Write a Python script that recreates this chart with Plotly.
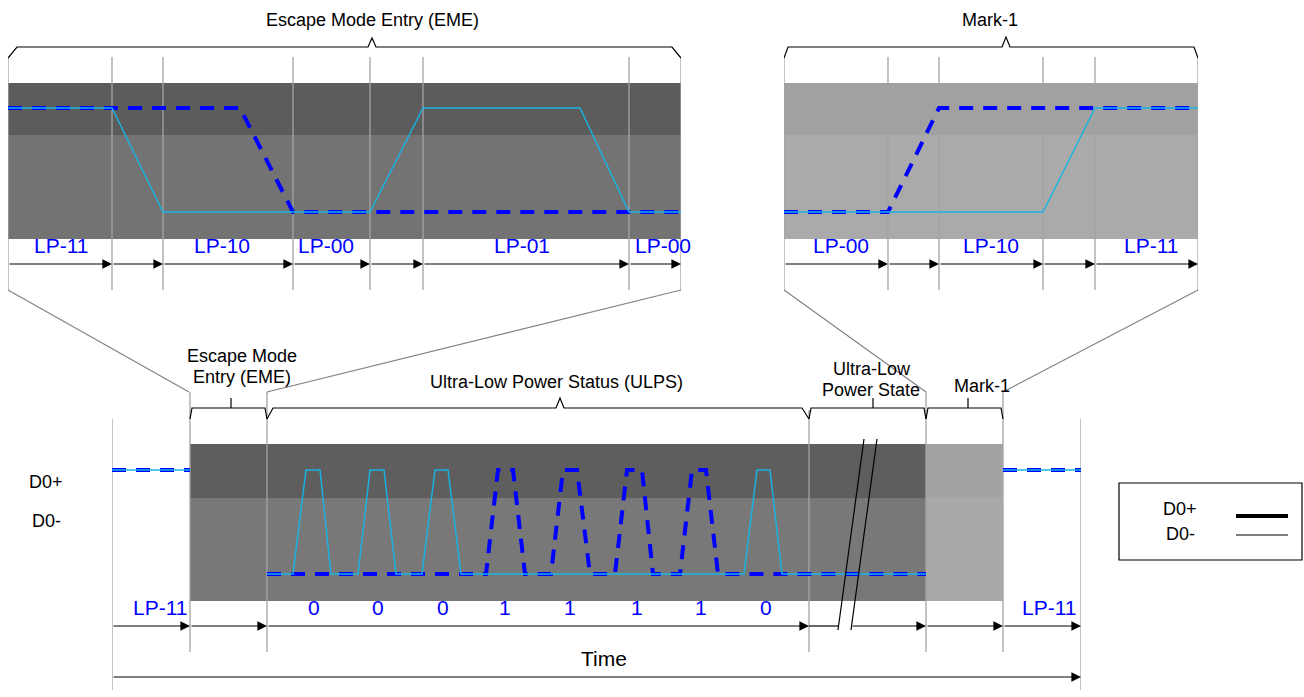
import plotly.graph_objects as go

W, H = 1304, 697

# ---------------- data ----------------
# Top-left zoom: Escape Mode Entry (time offsets, levels 1 = high, 0 = low)
EME_BOUNDS = [0, 104, 155, 285, 362, 415, 621, 673]
EME_LABELS = ["LP-11", "LP-10", "LP-00", "LP-01", "LP-00"]
EME_LABEL_T = [53, 214, 318, 514, 655]
EME_DP_T = [0, 232, 285, 673]
EME_DP_V = [1, 1, 0, 0]
EME_DN_T = [0, 104, 155, 362, 415, 572, 621, 673]
EME_DN_V = [1, 1, 0, 0, 1, 1, 0, 0]

# Top-right zoom: Mark-1
MK_BOUNDS = [0, 104, 155, 259, 311, 414]
MK_LABELS = ["LP-00", "LP-10", "LP-11"]
MK_LABEL_T = [57, 207, 367]
MK_DP_T = [0, 104, 155, 414]
MK_DP_V = [0, 0, 1, 1]
MK_DN_T = [0, 259, 311, 414]
MK_DN_V = [0, 0, 1, 1]

# Bottom overview sequence
SEQ_BOUNDS = [0, 78, 155, 697, 814, 891, 969]
SEQ_DP_T = [0, 78, None, 155, 374, 386, 401, 413, 439, 451, 465, 478,
            503, 515, 530, 541, 568, 580, 594, 606, 814, None, 891, 969]
SEQ_DP_V = [1, 1, None, 0, 0, 1, 1, 0, 0, 1, 1, 0,
            0, 1, 1, 0, 0, 1, 1, 0, 0, None, 1, 1]
SEQ_DN_T = [0, 78, None, 155, 181, 194, 208, 219, 246, 258, 272, 284,
            310, 323, 336, 349, 632, 645, 658, 670, 814, None, 891, 969]
SEQ_DN_V = [1, 1, None, 0, 0, 1, 1, 0, 0, 1, 1, 0,
            0, 1, 1, 0, 0, 1, 1, 0, 0, None, 1, 1]
BITS = ["0", "0", "0", "1", "1", "1", "1", "0"]
BIT_T = [202, 266, 331, 393, 458, 525, 589, 654]
SEQ_LP_LABELS = ["LP-11", "LP-11"]
SEQ_LP_T = [48, 937]

# ---------------- helpers ----------------
def py(p):
    return 1 - p / H

def px(p):
    return p / W

FONT = "Liberation Sans, Arial, sans-serif"
BLUE = "#0000ff"
CYAN = "#17b4e6"
SEP = "#a4a4a4"

fig = go.Figure()
shapes = []
ann = []

def add_signal(xa, ya, dp_t, dp_v, dn_t, dn_v):
    fig.add_trace(go.Scatter(x=dp_t, y=dp_v, xaxis=xa, yaxis=ya, mode="lines",
                             line=dict(color=BLUE, width=4, dash="14px,10px"),
                             connectgaps=False, hoverinfo="skip", showlegend=False))
    fig.add_trace(go.Scatter(x=dn_t, y=dn_v, xaxis=xa, yaxis=ya, mode="lines",
                             line=dict(color=CYAN, width=1.4),
                             connectgaps=False, hoverinfo="skip", showlegend=False))

add_signal("x", "y", EME_DP_T, EME_DP_V, EME_DN_T, EME_DN_V)
add_signal("x2", "y2", MK_DP_T, MK_DP_V, MK_DN_T, MK_DN_V)
add_signal("x3", "y3", SEQ_DP_T, SEQ_DP_V, SEQ_DN_T, SEQ_DN_V)

def rect(xref, t0, t1, ytop, ybot, color):
    shapes.append(dict(type="rect", xref=xref, yref="paper", x0=t0, x1=t1,
                       y0=py(ybot), y1=py(ytop), fillcolor=color,
                       line=dict(width=0), layer="below"))

def vline(xref, t, ytop, ybot, color=SEP, width=1.3, layer="below"):
    shapes.append(dict(type="line", xref=xref, yref="paper", x0=t, x1=t,
                       y0=py(ybot), y1=py(ytop), line=dict(color=color, width=width),
                       layer=layer))

def arrow(xref, t0, t1, ypx, head=True):
    ann.append(dict(x=t1, y=py(ypx), xref=xref, yref="paper", ax=t0, ay=0,
                    axref=xref, ayref="pixel", showarrow=True,
                    arrowhead=2 if head else 0, arrowsize=1.6, arrowwidth=1.2,
                    arrowcolor="black", text="", standoff=0))

def text(xref, t, ypx, s, size, color="black"):
    ann.append(dict(x=t, y=py(ypx), xref=xref, yref="paper", text=s, showarrow=False,
                    font=dict(family=FONT, size=size, color=color),
                    xanchor="center", yanchor="middle"))

def ptext(xpx, ypx, s, size, color="black"):
    ann.append(dict(x=px(xpx), y=py(ypx), xref="paper", yref="paper", text=s,
                    showarrow=False, font=dict(family=FONT, size=size, color=color),
                    xanchor="center", yanchor="middle"))

def pline(x0, y0, x1, y1, color="#808080", width=1.1):
    shapes.append(dict(type="line", xref="paper", yref="paper", x0=px(x0), y0=py(y0),
                       x1=px(x1), y1=py(y1), line=dict(color=color, width=width),
                       layer="above"))

def brace_path(pts):
    d = ""
    for i, (t, y) in enumerate(pts):
        d += ("M" if i == 0 else "L") + f"{t},{py(y)}"
    return d

def brace(xref, pts):
    shapes.append(dict(type="path", xref=xref, yref="paper", path=brace_path(pts),
                       line=dict(color="black", width=1.2), layer="above"))

LP_SIZE = 21
LBL_SIZE = 18

# ---------------- top-left panel ----------------
rect("x", EME_BOUNDS[0], EME_BOUNDS[-1], 83, 135, "#5c5c5c")
rect("x", EME_BOUNDS[0], EME_BOUNDS[-1], 135, 239, "#737373")
for t in EME_BOUNDS:
    vline("x", t, 57, 290)
for a, b in zip(EME_BOUNDS[:-1], EME_BOUNDS[1:]):
    arrow("x", a, b, 264)
for s, t in zip(EME_LABELS, EME_LABEL_T):
    text("x", t, 245, s, LP_SIZE, BLUE)
brace("x", [(0, 58), (9, 47), (360, 47), (364, 38), (368, 47), (664, 47), (673, 58)])
text("x", 364, 20, "Escape Mode Entry (EME)", LBL_SIZE)

# ---------------- top-right panel ----------------
rect("x2", MK_BOUNDS[0], MK_BOUNDS[-1], 83, 135, "#a1a1a1")
rect("x2", MK_BOUNDS[0], MK_BOUNDS[-1], 135, 239, "#aaaaaa")
for t in MK_BOUNDS:
    vline("x2", t, 57, 290)
for a, b in zip(MK_BOUNDS[:-1], MK_BOUNDS[1:]):
    arrow("x2", a, b, 264)
for s, t in zip(MK_LABELS, MK_LABEL_T):
    text("x2", t, 245, s, LP_SIZE, BLUE)
brace("x2", [(0, 58), (4, 47), (218, 47), (222, 37), (226, 47), (410, 47), (414, 58)])
text("x2", 206, 20, "Mark-1", LBL_SIZE)

# ---------------- bottom panel ----------------
b = SEQ_BOUNDS
rect("x3", b[1], b[4], 444, 498, "#5e5e5e")
rect("x3", b[1], b[4], 498, 601, "#787878")
rect("x3", b[4], b[5], 444, 498, "#a3a3a3")
rect("x3", b[4], b[5], 498, 601, "#a9a9a9")
vline("x3", b[0], 419, 690)
vline("x3", b[1], 392, 652)
vline("x3", b[2], 392, 652)
vline("x3", b[3], 410, 652)
vline("x3", b[4], 392, 652)
vline("x3", b[5], 392, 652)
vline("x3", b[6], 419, 690)

arrow("x3", b[0], b[1], 626)
arrow("x3", b[1], b[2], 626)
arrow("x3", b[2], b[3], 626)
shapes.append(dict(type="line", xref="x3", yref="paper", x0=b[3], x1=726,
                   y0=py(626), y1=py(626), line=dict(color="black", width=1.2)))
arrow("x3", 739, b[4], 626)
arrow("x3", b[4], b[5], 626)
arrow("x3", b[5], b[6], 626)
arrow("x3", b[0], b[6], 677)
text("x3", 492, 658, "Time", LP_SIZE)

for s, t in zip(BITS, BIT_T):
    text("x3", t, 607, s, LP_SIZE, BLUE)
for s, t in zip(SEQ_LP_LABELS, SEQ_LP_T):
    text("x3", t, 607, s, LP_SIZE, BLUE)

# braces of the bottom sequence
brace("x3", [(b[1], 419), (b[1] + 2, 408), (b[2] - 2, 408), (b[2], 419)])
brace("x3", [(119, 408), (119, 398)])
brace("x3", [(b[2], 419), (b[2] + 6, 408), (444, 408), (448, 398), (452, 408),
             (b[3] - 7, 408), (b[3], 419)])
brace("x3", [(b[3], 419), (b[3] + 2, 408), (b[4] - 2, 408), (b[4], 419)])
brace("x3", [(761, 408), (761, 398)])
brace("x3", [(b[4], 419), (b[4] + 2, 408), (b[5] - 2, 408), (b[5], 419)])
brace("x3", [(856, 408), (856, 398)])

text("x3", 130, 356, "Escape Mode", LBL_SIZE)
text("x3", 130, 377, "Entry (EME)", LBL_SIZE)
text("x3", 444, 382, "Ultra-Low Power Status (ULPS)", LBL_SIZE)
text("x3", 760, 369, "Ultra-Low", LBL_SIZE)
text("x3", 759, 390, "Power State", LBL_SIZE)
text("x3", 870, 386, "Mark-1", LBL_SIZE)

# break marks
pline(864, 439, 838, 630, color="black", width=1.2)
pline(877, 439, 851, 630, color="black", width=1.2)

# zoom connectors
pline(8, 290, 189, 392)
pline(681, 290, 267, 392)
pline(784, 290, 926, 392)
pline(1198, 290, 1003, 392)

# side labels
ptext(46, 482, "D0+", LBL_SIZE)
ptext(46, 521, "D0-", LBL_SIZE)

# legend box
shapes.append(dict(type="rect", xref="paper", yref="paper", x0=px(1119), x1=px(1302),
                   y0=py(560), y1=py(483), line=dict(color="black", width=1.2),
                   fillcolor="white", layer="above"))
pline(1236, 516, 1288, 516, color="black", width=4)
pline(1236, 535, 1288, 535, color="black", width=1)
ptext(1180, 509, "D0+", LBL_SIZE)
ptext(1180, 534, "D0-", LBL_SIZE)

ax_common = dict(visible=False, fixedrange=True, showgrid=False, zeroline=False)
top_dom = [py(239), py(83)]
top_rng = [-(239 - 212) / 104, 1 + (108 - 83) / 104]
bot_dom = [py(601), py(444)]
bot_rng = [-(601 - 574) / 104, 1 + (470 - 444) / 104]

fig.update_layout(
    width=W, height=H, margin=dict(l=0, r=0, t=0, b=0),
    paper_bgcolor="white", plot_bgcolor="rgba(0,0,0,0)",
    showlegend=False,
    xaxis=dict(domain=[px(8), px(681)], range=[0, 673], anchor="y", **ax_common),
    yaxis=dict(domain=top_dom, range=top_rng, anchor="x", **ax_common),
    xaxis2=dict(domain=[px(784), px(1198)], range=[0, 414], anchor="y2", **ax_common),
    yaxis2=dict(domain=top_dom, range=top_rng, anchor="x2", **ax_common),
    xaxis3=dict(domain=[px(112), px(1081)], range=[0, 969], anchor="y3", **ax_common),
    yaxis3=dict(domain=bot_dom, range=bot_rng, anchor="x3", **ax_common),
    shapes=shapes, annotations=ann,
)

fig.write_html("out.html", config={"displayModeBar": False},
               post_script="document.body.style.margin='0px';document.body.style.overflow='hidden';")
